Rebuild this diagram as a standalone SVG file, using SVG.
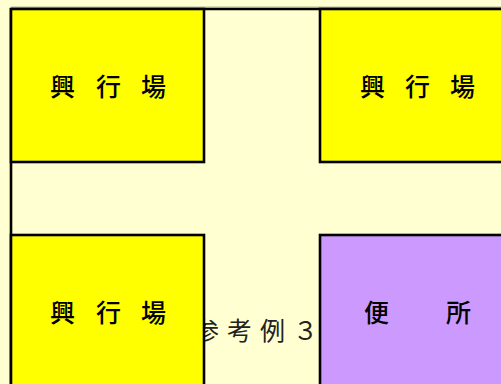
<svg xmlns="http://www.w3.org/2000/svg" width="501" height="384" viewBox="0 0 501 384">
<style>
.room{stroke:#000;stroke-width:2.6}
.hall{fill:#ffff00}
.wc{fill:#cc99ff}
.lbl{font-family:"Noto Sans CJK JP","Noto Sans CJK SC",sans-serif;font-size:25px;fill:#000;font-weight:500}
.cap{font-family:"Noto Sans CJK JP","Noto Sans CJK SC",sans-serif;font-size:25px;fill:#222;font-weight:400}
</style>
<rect x="0" y="0" width="501" height="384" fill="#ffffd2"/>
<line x1="11" y1="7" x2="501" y2="7" stroke="#b8b898" stroke-width="1.2"/>
<text class="cap" x="194 227 260 293" y="340">参考例３</text>
<g id="connectors">
<line x1="11" y1="9" x2="501" y2="9" stroke="#000" stroke-width="2.6"/>
<line x1="11" y1="8" x2="11" y2="384" stroke="#000" stroke-width="2.6"/>
</g>
<g id="hall-top-left">
<rect class="room hall" x="11" y="9" width="193" height="153"/>
<text class="lbl" x="50 75 96 120 141" y="96">興 行 場</text>
</g>
<g id="hall-top-right">
<rect class="room hall" x="320" y="9" width="190" height="153"/>
<text class="lbl" x="360 384 405 429 450" y="96">興 行 場</text>
</g>
<g id="hall-bottom-left">
<rect class="room hall" x="11" y="235" width="193" height="160"/>
<text class="lbl" x="50 75 96 120 141" y="322">興 行 場</text>
</g>
<g id="toilet">
<rect class="room wc" x="320" y="235" width="190" height="160"/>
<text class="lbl" x="364 390 446" y="322">便 所</text>
</g>
</svg>
